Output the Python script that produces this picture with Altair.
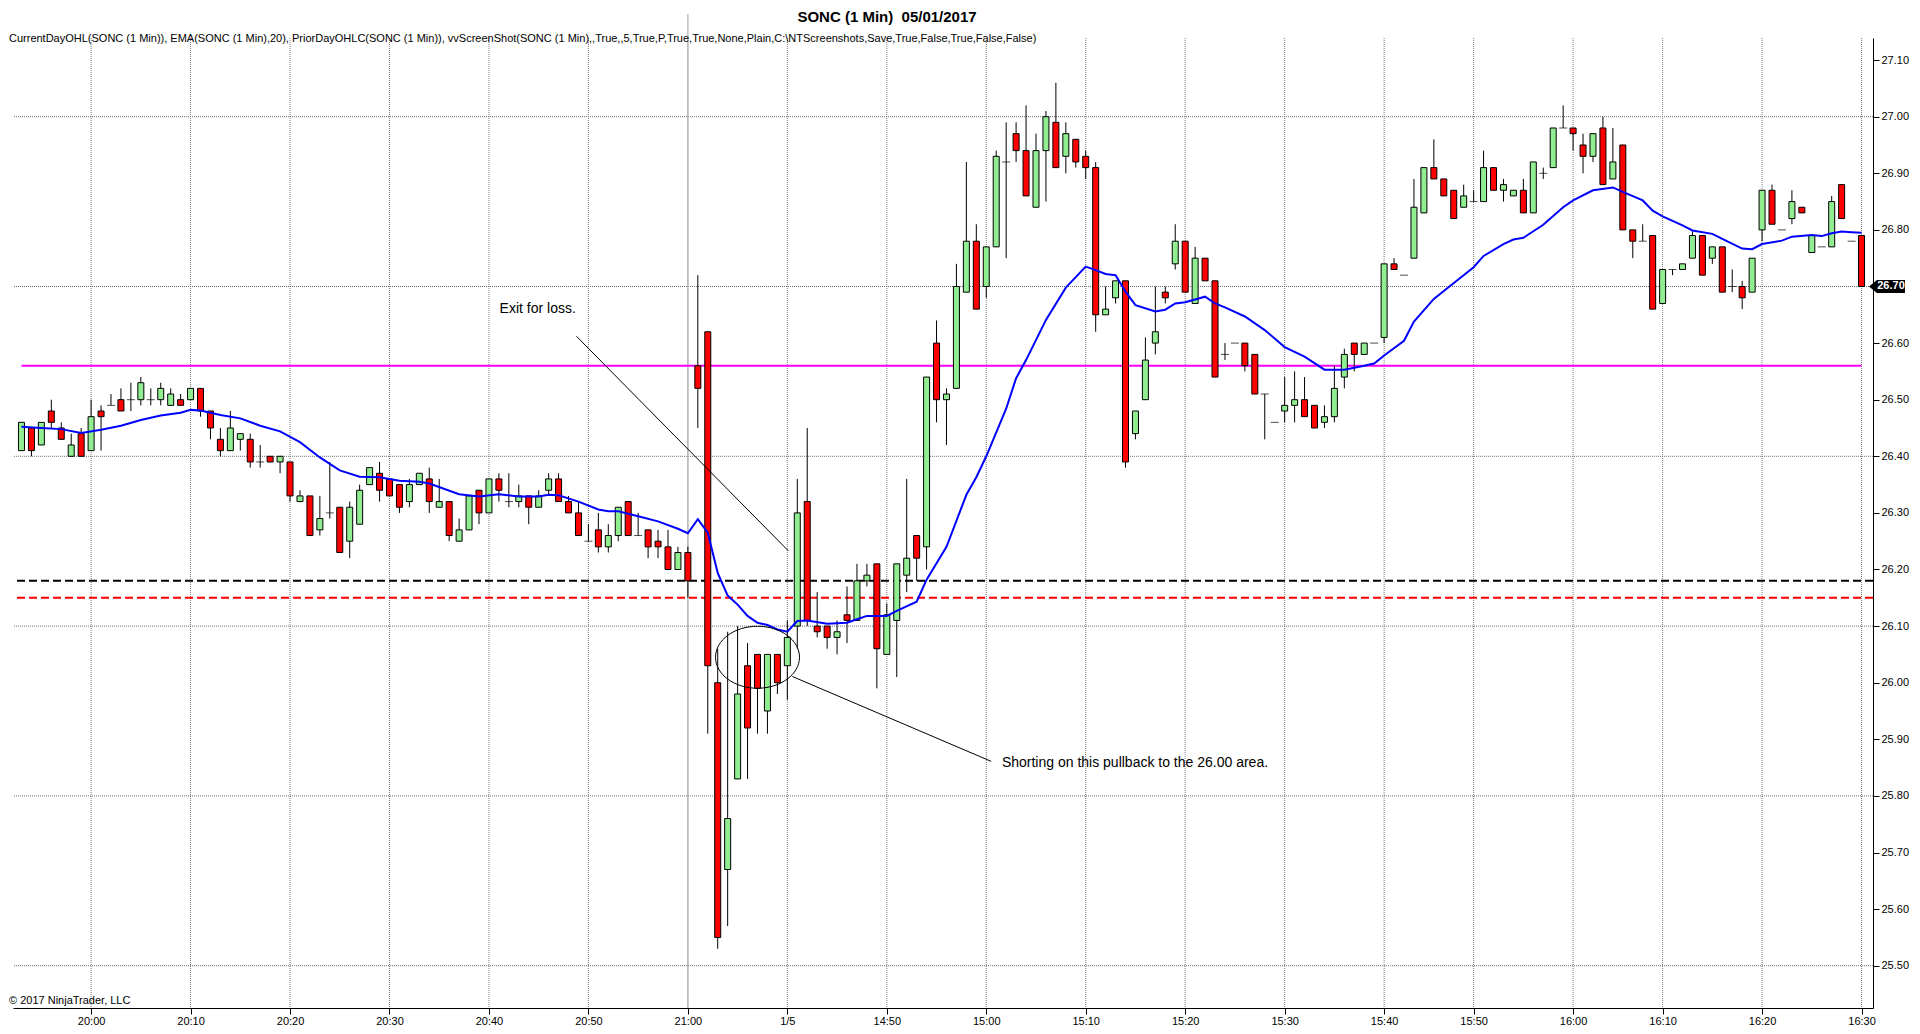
import altair as alt
import pandas as pd

FONT = "Liberation Sans"

# ---------------- data ----------------
bar_index = list(range(186))
opens = [26.41, 26.45, 26.42, 26.48, 26.45, 26.40, 26.44, 26.41, 26.48, 26.49,
         26.50, 26.50, 26.50, 26.50, 26.50, 26.49, 26.50, 26.50, 26.52, 26.48,
         26.43, 26.41, 26.43, 26.43, 26.39, 26.40, 26.39, 26.39, 26.32, 26.33,
         26.27, 26.30, 26.31, 26.25, 26.28, 26.35, 26.37, 26.36, 26.35, 26.32,
         26.35, 26.36, 26.31, 26.32, 26.25, 26.27, 26.34, 26.30, 26.36, 26.32,
         26.32, 26.33, 26.31, 26.34, 26.36, 26.32, 26.30, 26.25, 26.27, 26.24,
         26.26, 26.32, 26.26, 26.27, 26.25, 26.24, 26.20, 26.23, 26.56, 26.62,
         26.00, 25.67, 25.83, 26.03, 26.05, 25.95, 26.05, 26.03, 26.10, 26.32,
         26.10, 26.10, 26.08, 26.12, 26.11, 26.18, 26.21, 26.05, 26.11, 26.19,
         26.26, 26.24, 26.60, 26.50, 26.52, 26.69, 26.78, 26.70, 26.77, 26.92,
         26.97, 26.94, 26.84, 26.94, 26.99, 26.93, 26.96, 26.93, 26.91, 26.65,
         26.68, 26.71, 26.44, 26.50, 26.60, 26.69, 26.74, 26.78, 26.67, 26.75,
         26.71, 26.58, 26.60, 26.60, 26.58, 26.51, 26.46, 26.48, 26.49, 26.50,
         26.49, 26.46, 26.47, 26.54, 26.60, 26.58, 26.60, 26.61, 26.74, 26.72,
         26.75, 26.83, 26.91, 26.89, 26.87, 26.84, 26.85, 26.85, 26.91, 26.87,
         26.86, 26.87, 26.83, 26.90, 26.91, 26.98, 26.98, 26.95, 26.93, 26.98,
         26.89, 26.95, 26.80, 26.78, 26.79, 26.67, 26.73, 26.73, 26.75, 26.79,
         26.75, 26.77, 26.70, 26.70, 26.69, 26.80, 26.87, 26.80, 26.82, 26.84,
         26.76, 26.77, 26.77, 26.88, 26.78, 26.79]
highs = [26.46, 26.45, 26.46, 26.50, 26.46, 26.44, 26.45, 26.50, 26.49, 26.51,
         26.52, 26.53, 26.54, 26.52, 26.53, 26.52, 26.51, 26.52, 26.52, 26.48,
         26.45, 26.48, 26.44, 26.44, 26.42, 26.40, 26.40, 26.39, 26.34, 26.33,
         26.33, 26.39, 26.31, 26.32, 26.35, 26.38, 26.39, 26.36, 26.35, 26.36,
         26.37, 26.38, 26.36, 26.32, 26.29, 26.33, 26.34, 26.36, 26.37, 26.37,
         26.35, 26.33, 26.34, 26.37, 26.37, 26.33, 26.32, 26.28, 26.30, 26.28,
         26.31, 26.32, 26.30, 26.27, 26.27, 26.27, 26.24, 26.24, 26.72, 26.62,
         26.06, 26.09, 26.10, 26.07, 26.05, 26.05, 26.05, 26.11, 26.36, 26.45,
         26.16, 26.10, 26.11, 26.17, 26.21, 26.21, 26.21, 26.14, 26.21, 26.36,
         26.26, 26.54, 26.64, 26.52, 26.74, 26.92, 26.81, 26.77, 26.94, 26.99,
         26.99, 27.02, 26.97, 27.01, 27.06, 26.99, 26.96, 26.94, 26.92, 26.70,
         26.71, 26.71, 26.48, 26.61, 26.70, 26.70, 26.81, 26.78, 26.77, 26.75,
         26.71, 26.60, 26.60, 26.60, 26.58, 26.51, 26.46, 26.54, 26.55, 26.54,
         26.49, 26.49, 26.56, 26.59, 26.60, 26.60, 26.60, 26.74, 26.75, 26.72,
         26.89, 26.91, 26.96, 26.89, 26.87, 26.88, 26.87, 26.94, 26.91, 26.89,
         26.87, 26.89, 26.92, 26.91, 26.98, 27.02, 26.98, 26.97, 26.97, 27.00,
         26.98, 26.95, 26.80, 26.81, 26.79, 26.73, 26.73, 26.74, 26.80, 26.79,
         26.77, 26.77, 26.73, 26.71, 26.75, 26.87, 26.88, 26.80, 26.87, 26.84,
         26.79, 26.77, 26.86, 26.88, 26.78, 26.79]
lows = [26.41, 26.40, 26.42, 26.45, 26.43, 26.40, 26.40, 26.41, 26.41, 26.49,
        26.48, 26.48, 26.49, 26.49, 26.49, 26.49, 26.49, 26.50, 26.47, 26.43,
        26.40, 26.41, 26.41, 26.38, 26.38, 26.39, 26.37, 26.32, 26.32, 26.26,
        26.26, 26.29, 26.23, 26.22, 26.28, 26.35, 26.32, 26.33, 26.30, 26.31,
        26.35, 26.30, 26.31, 26.25, 26.25, 26.27, 26.28, 26.30, 26.32, 26.31,
        26.31, 26.28, 26.31, 26.33, 26.32, 26.30, 26.26, 26.25, 26.23, 26.23,
        26.25, 26.26, 26.26, 26.22, 26.22, 26.20, 26.20, 26.15, 26.45, 25.91,
        25.53, 25.57, 25.83, 25.83, 25.91, 25.91, 25.98, 25.97, 26.06, 26.10,
        26.08, 26.06, 26.05, 26.07, 26.11, 26.17, 25.99, 26.05, 26.01, 26.16,
        26.18, 26.20, 26.46, 26.42, 26.52, 26.69, 26.66, 26.68, 26.77, 26.75,
        26.92, 26.86, 26.84, 26.85, 26.91, 26.90, 26.91, 26.89, 26.62, 26.65,
        26.67, 26.38, 26.43, 26.50, 26.58, 26.67, 26.73, 26.69, 26.67, 26.71,
        26.54, 26.57, 26.60, 26.55, 26.51, 26.43, 26.46, 26.46, 26.46, 26.47,
        26.45, 26.45, 26.46, 26.52, 26.55, 26.58, 26.60, 26.60, 26.73, 26.72,
        26.75, 26.83, 26.89, 26.86, 26.82, 26.84, 26.85, 26.85, 26.87, 26.85,
        26.86, 26.83, 26.83, 26.89, 26.91, 26.98, 26.94, 26.90, 26.92, 26.88,
        26.89, 26.80, 26.75, 26.78, 26.66, 26.67, 26.72, 26.73, 26.75, 26.72,
        26.74, 26.69, 26.69, 26.66, 26.69, 26.78, 26.81, 26.80, 26.81, 26.83,
        26.76, 26.77, 26.77, 26.82, 26.78, 26.70]
closes = [26.46, 26.41, 26.46, 26.46, 26.43, 26.42, 26.40, 26.47, 26.47, 26.49,
          26.48, 26.50, 26.53, 26.50, 26.52, 26.51, 26.49, 26.52, 26.48, 26.45,
          26.41, 26.45, 26.44, 26.39, 26.39, 26.39, 26.40, 26.33, 26.33, 26.26,
          26.29, 26.30, 26.23, 26.31, 26.34, 26.38, 26.34, 26.33, 26.31, 26.35,
          26.37, 26.32, 26.32, 26.26, 26.27, 26.33, 26.30, 26.36, 26.34, 26.32,
          26.33, 26.31, 26.33, 26.36, 26.32, 26.30, 26.26, 26.25, 26.24, 26.26,
          26.31, 26.26, 26.26, 26.24, 26.24, 26.20, 26.23, 26.18, 26.52, 26.03,
          25.55, 25.76, 25.98, 25.92, 25.99, 26.05, 26.00, 26.08, 26.30, 26.11,
          26.09, 26.08, 26.09, 26.11, 26.18, 26.19, 26.06, 26.12, 26.21, 26.22,
          26.22, 26.54, 26.50, 26.51, 26.70, 26.78, 26.66, 26.77, 26.93, 26.92,
          26.94, 26.86, 26.94, 27.00, 26.91, 26.97, 26.92, 26.91, 26.65, 26.66,
          26.71, 26.39, 26.48, 26.57, 26.62, 26.68, 26.78, 26.69, 26.75, 26.71,
          26.54, 26.58, 26.60, 26.56, 26.51, 26.51, 26.46, 26.49, 26.50, 26.47,
          26.45, 26.47, 26.52, 26.58, 26.58, 26.60, 26.60, 26.74, 26.73, 26.72,
          26.84, 26.91, 26.89, 26.86, 26.82, 26.86, 26.85, 26.91, 26.87, 26.88,
          26.87, 26.83, 26.92, 26.90, 26.98, 26.98, 26.97, 26.93, 26.97, 26.88,
          26.92, 26.80, 26.78, 26.78, 26.66, 26.73, 26.73, 26.74, 26.79, 26.72,
          26.77, 26.69, 26.70, 26.68, 26.75, 26.87, 26.81, 26.80, 26.85, 26.83,
          26.79, 26.77, 26.85, 26.82, 26.78, 26.70]

ema_index = [0, 2, 4, 6, 8, 10, 12, 14, 16, 17, 18, 20, 22, 24, 26, 28, 30, 32, 34, 36,
             38, 40, 41, 44, 46, 48, 50, 52, 53, 54, 56, 58, 59, 60, 62, 64, 66, 67, 68, 69,
             70, 71, 72, 73, 74, 75, 76, 77, 78, 79, 81, 83, 84, 85, 86, 87, 88, 90, 91, 93,
             95, 96, 97, 99, 100, 101, 103, 105, 107, 108, 109, 110, 111, 112, 114, 115, 116, 117, 119, 120,
             121, 123, 125, 127, 129, 131, 133, 135, 136, 137, 139, 140, 142, 143, 146, 147, 149, 150, 151, 153,
             155, 156, 158, 160, 161, 163, 164, 165, 167, 168, 170, 171, 173, 174, 175, 177, 178, 180, 181, 182,
             183, 184, 185]
ema_value = [26.452, 26.450, 26.448, 26.441, 26.447, 26.454, 26.464, 26.472, 26.477, 26.482,
             26.481, 26.473, 26.467, 26.454, 26.444, 26.425, 26.398, 26.375, 26.364, 26.363,
             26.357, 26.355, 26.352, 26.333, 26.329, 26.333, 26.329, 26.329, 26.332, 26.331,
             26.320, 26.306, 26.303, 26.303, 26.294, 26.285, 26.272, 26.264, 26.289, 26.265,
             26.194, 26.154, 26.138, 26.118, 26.106, 26.102, 26.094, 26.090, 26.109, 26.110,
             26.104, 26.106, 26.112, 26.118, 26.118, 26.118, 26.127, 26.143, 26.182, 26.240,
             26.332, 26.363, 26.400, 26.484, 26.538, 26.570, 26.641, 26.698, 26.735, 26.729,
             26.722, 26.720, 26.691, 26.667, 26.656, 26.659, 26.670, 26.672, 26.682, 26.670,
             26.663, 26.647, 26.623, 26.593, 26.576, 26.553, 26.553, 26.560, 26.564, 26.578,
             26.604, 26.638, 26.678, 26.692, 26.734, 26.754, 26.775, 26.783, 26.786, 26.809,
             26.840, 26.852, 26.870, 26.875, 26.867, 26.852, 26.834, 26.824, 26.808, 26.799,
             26.793, 26.784, 26.767, 26.766, 26.775, 26.781, 26.788, 26.791, 26.789, 26.794,
             26.797, 26.796, 26.795]

label_index = [7, 17, 27, 37, 47, 57, 67, 77, 87, 97, 107, 117, 127, 137, 146, 156, 165, 175, 185]
label_text = ["20:00", "20:10", "20:20", "20:30", "20:40", "20:50", "21:00", "1/5", "14:50",
              "15:00", "15:10", "15:20", "15:30", "15:40", "15:50", "16:00", "16:10", "16:20", "16:30"]

price_ticks = [25.50, 25.60, 25.70, 25.80, 25.90, 26.00, 26.10, 26.20, 26.30, 26.40,
               26.50, 26.60, 26.70, 26.80, 26.90, 27.00, 27.10]
grid_prices = [27.00, 26.70, 26.40, 26.10, 25.80, 25.50]

magenta_level = [26.56]
black_level = [26.18]
red_level = [26.15]
session_break = [67]
last_price = [26.70]

title_text = "SONC (1 Min)\u00a0 05/01/2017"
indicator_text = ("CurrentDayOHL(SONC (1 Min)), EMA(SONC (1 Min),20), PriorDayOHLC(SONC (1 Min)), "
                  "vvScreenShot(SONC (1 Min),,True,,5,True,P,True,True,None,Plain,C:\\NTScreenshots,"
                  "Save,True,False,True,False,False)")
copyright_text = "\u00a9 2017 NinjaTrader, LLC"

note_text = ["Exit for loss.", "Shorting on this pullback to the 26.00 area."]
note_index = [48.07, 98.57]
note_price = [26.66, 25.858]
leader_index = [55.8, 77.5]
leader_price = [26.612, 26.011]
leader_index2 = [77.1, 97.5]
leader_price2 = [26.233, 25.861]
circle_index = [74.0]
circle_price = [26.045]

# ---------------- tables ----------------
candles = pd.DataFrame({"i": bar_index, "o": opens, "h": highs, "l": lows, "c": closes})
candles["dir"] = ["up" if c > o else ("down" if c < o else "flat") for o, c in zip(opens, closes)]
ema = pd.DataFrame({"i": ema_index, "e": ema_value})
grid_df = pd.DataFrame({"p": grid_prices})
vgrid_df = pd.DataFrame({"i": label_index})
notes = pd.DataFrame({"i": note_index, "p": note_price, "t": note_text})
leaders = pd.DataFrame({"i": leader_index, "p": leader_price, "i2": leader_index2, "p2": leader_price2})
circle = pd.DataFrame({"i": circle_index, "p": circle_price})

W, H = 1860, 970
xs = alt.Scale(domain=[-0.35, 185.65], nice=False, zero=False)
ys = alt.Scale(domain=[25.4253, 27.139], nice=False, zero=False)

label_expr = ("[" + ",".join("'%s'" % t for t in label_text) + "][indexof(["
              + ",".join(str(v) for v in label_index) + "], datum.value)]")

x_axis = alt.Axis(values=label_index, labelExpr=label_expr, grid=False,
                  domainColor="black", domainWidth=1,
                  tickColor="black", tickSize=6, labelFont=FONT, labelFontSize=11,
                  labelColor="black", labelPadding=1, labelFlush=False, labelOverlap=False,
                  title=None, orient="bottom")
y_axis = alt.Axis(orient="right", values=price_ticks,
                  labelExpr="abs(datum.value - 26.7) < 0.001 ? '' : format(datum.value, '.2f')",
                  grid=False, domainColor="black", tickColor="black", tickSize=6, labelFont=FONT,
                  labelFontSize=11, labelColor="black", labelPadding=2, labelFlush=False,
                  labelOverlap=False, title=None)


def X(f):
    return alt.X(f, type="quantitative", scale=xs, axis=x_axis)


def Y(f):
    return alt.Y(f, type="quantitative", scale=ys, axis=y_axis)


hgrid = alt.Chart(grid_df).mark_rule(color="#6e6e6e", strokeDash=[1, 1], strokeWidth=1).encode(
    y=Y("p"))
vgrid = alt.Chart(vgrid_df).mark_rule(color="#7a7a7a", strokeDash=[1, 1], strokeWidth=1).encode(
    x=X("i"))

session = alt.Chart(pd.DataFrame({"i": session_break})).mark_rule(
    color="#b4b4b4", strokeWidth=1.3).encode(x=X("i"), y=alt.value(-24), y2=alt.value(H))

black_line = alt.Chart(pd.DataFrame({"p": black_level})).mark_rule(
    color="black", strokeDash=[8, 4], strokeWidth=2).encode(y=Y("p"))
red_line = alt.Chart(pd.DataFrame({"p": red_level})).mark_rule(
    color="#ff0000", strokeDash=[8, 4], strokeWidth=2).encode(y=Y("p"))
magenta = alt.Chart(pd.DataFrame({"p": magenta_level, "a": [bar_index[0]], "b": [bar_index[-1]]})).mark_rule(
    color="#ff00ff", strokeWidth=2).encode(x=X("a"), x2="b", y=Y("p"))

wicks = alt.Chart(candles).mark_rule(color="black", strokeWidth=1).encode(
    x=X("i"), y=Y("l"), y2="h")

bodies = alt.Chart(candles).transform_filter("datum.dir != 'flat'").mark_bar(
    size=6, stroke="black", strokeWidth=1).encode(
    x=X("i"), y=Y("o"), y2="c",
    color=alt.Color("dir:N", scale=alt.Scale(domain=["up", "down"], range=["#90ee90", "#ff0000"]),
                    legend=None))

dojis = alt.Chart(candles).transform_filter("datum.dir == 'flat'").mark_tick(
    orient="horizontal", size=8, thickness=1, color="black").encode(x=X("i"), y=Y("o"))

ema_line = alt.Chart(ema).mark_line(color="#0000ff", strokeWidth=2).encode(x=X("i"), y=Y("e"))

note_marks = alt.Chart(notes).mark_text(align="left", baseline="middle", font=FONT,
                                        fontSize=14, color="black").encode(
    x=X("i"), y=Y("p"), text="t:N")
leader_marks = alt.Chart(leaders).mark_rule(color="black", strokeWidth=1).encode(
    x=X("i"), y=Y("p"), x2="i2", y2="p2")
circle_mark = alt.Chart(circle).mark_point(
    shape="M -1 0 A 1 0.738 0 1 1 1 0 A 1 0.738 0 1 1 -1 0 Z", size=7056,
    filled=False, color="black", strokeWidth=1, opacity=1).encode(x=X("i"), y=Y("p"))

title_mark = alt.Chart(pd.DataFrame({"t": [title_text]})).mark_text(
    align="center", baseline="alphabetic", font=FONT, fontSize=15, fontWeight="bold",
    color="black").encode(x=alt.value(874), y=alt.value(-16), text="t:N")
indicator_mark = alt.Chart(pd.DataFrame({"t": [indicator_text]})).mark_text(
    align="left", baseline="alphabetic", font=FONT, fontSize=11, color="black").encode(
    x=alt.value(-4), y=alt.value(4), text="t:N")
copyright_mark = alt.Chart(pd.DataFrame({"t": [copyright_text]})).mark_text(
    align="left", baseline="alphabetic", font=FONT, fontSize=11, color="black").encode(
    x=alt.value(-4), y=alt.value(966), text="t:N")

tag = alt.Chart(pd.DataFrame({"p": last_price})).mark_point(
    shape="M -1 0 L -0.56 -0.36 L 1 -0.36 L 1 0.36 L -0.56 0.36 Z", size=1296,
    filled=True, color="black", opacity=1).encode(x=alt.value(1874), y=Y("p"))
tag_text = alt.Chart(pd.DataFrame({"p": last_price})).mark_text(
    align="center", baseline="middle", font=FONT, fontSize=11, fontWeight="bold",
    color="white").encode(x=alt.value(1878), y=Y("p"), text=alt.Text("p:Q", format=".2f"))

chart = alt.layer(
    hgrid, vgrid, session, black_line, red_line, magenta, wicks, bodies, dojis, ema_line,
    leader_marks, circle_mark, note_marks, title_mark, indicator_mark, copyright_mark,
    tag, tag_text
).properties(
    width=W, height=H, autosize="none",
    padding={"left": 5, "top": 30, "right": 38, "bottom": 18}
).configure_view(stroke=None)

chart.save("out.html", embed_options={"renderer": "svg", "actions": False})
